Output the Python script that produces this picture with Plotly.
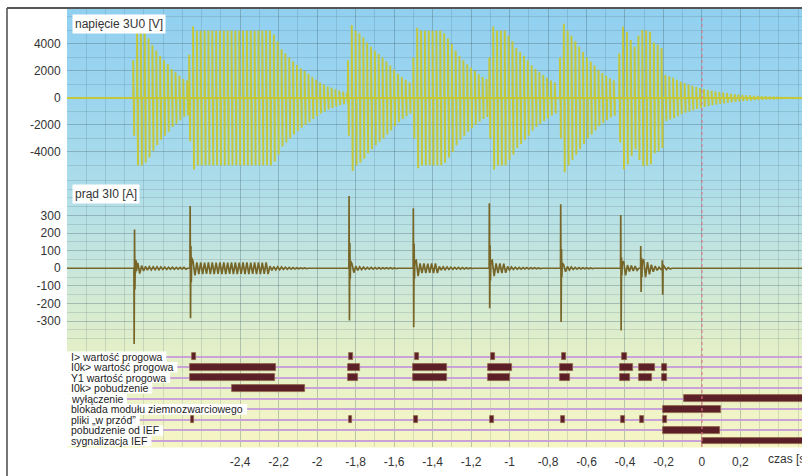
import plotly.graph_objects as go

# ---------------- data ----------------
T_START, T_END = -3.30, 0.52
TRIGGER_T = 0.0
CYCLE = 0.02  # 50 Hz network period

# voltage 3U0 [V]: burst start times and per-cycle peak amplitude
v_burst_t = [-2.956, -2.665, -1.840, -1.500, -1.105, -0.738, -0.430]
v_env_1 = [2800, 5000, 5000, 4800, 4400, 3900, 3500, 3100, 2800, 2500, 2150, 1900, 1650, 1400, 1300]
v_env_2 = [3200, 5300, 5000, 4980, 5000, 4990, 5000, 4980, 5000, 5000, 4990, 5000, 4980, 5000,
           5000, 4990, 5000, 4980, 5000, 5000, 4990, 5000, 4700, 4200, 3600, 3300, 3000, 2700,
           2450, 2200, 2000, 1800, 1550, 1350, 1150, 1000, 850, 750, 650, 550, 470, 400]
v_env_3 = [2800, 5400, 5000, 4800, 4500, 4100, 3800, 3500, 3250, 3000, 2700, 2400, 2100, 1800,
           1550, 1350, 1150]
v_env_4 = [3000, 5200, 5000, 5000, 4980, 5000, 5000, 4990, 4800, 4400, 4000, 3500, 3100, 2800,
           2500, 2250, 2000, 1750, 1550, 1400]
v_env_5 = [3000, 5300, 5000, 5000, 4990, 4600, 4200, 3700, 3400, 3100, 2800, 2400, 2150, 1900,
           1700, 1500, 1300, 1150]
v_env_6 = [3000, 5500, 5000, 4600, 4200, 3800, 3400, 3000, 2700, 2400, 2100, 1850, 1650, 1450, 1300]
v_env_7 = [3300, 5300, 4900, 4300, 3800, 4600, 5050, 5000, 4900, 4100, 3950, 3700, 1700, 1600,
           1500, 1350, 1200, 1100, 1000, 900, 820, 740, 670, 600, 540, 490, 440, 400, 360, 320,
           290, 260, 230, 210, 190, 170, 150, 135, 120, 110, 100, 90, 80, 70, 65, 60, 55, 50, 45]
v_envs = [v_env_1, v_env_2, v_env_3, v_env_4, v_env_5, v_env_6, v_env_7]

# current 3I0 [A]: event times, transient samples and per-cycle ringing amplitude
i_event_t = [-2.951, -2.660, -1.834, -1.500, -1.105, -0.734, -0.422, -0.318, -0.206]
i_trans_1 = [-430, 220, -120, 50, -25, 45, -15]
i_trans_2 = [354, -284, 126, -80, 60]
i_trans_3 = [411, -297, 144, -60, 40]
i_trans_4 = [341, -335, 141, -60, 40]
i_trans_5 = [369, -227, 131, -70, 40]
i_trans_6 = [364, -306, 110, -50, 30]
i_trans_7 = [303, -354, 63, -40, 30]
i_trans_8 = [126, -135, 60, -50, 40]
i_trans_9 = [46, -150, 20]
i_ring_1 = [30, 15, 10, 9, 8, 8, 7, 7, 6, 6, 5, 5, 5]
i_ring_2 = [40, 33, 33, 32, 33, 33, 32, 33, 33, 32, 33, 33, 32, 33, 33, 32, 33, 33, 32, 33,
            12, 9, 8, 7, 6, 5, 4, 3, 2, 2]
i_ring_3 = [25, 12, 8, 6, 5, 5, 4, 4, 3, 3, 3, 2]
i_ring_4 = [45, 27, 27, 26, 27, 27, 10, 8, 7, 6, 5, 5, 4, 3, 2]
i_ring_5 = [45, 27, 27, 26, 10, 7, 6, 5, 4, 4, 3, 3, 2]
i_ring_6 = [20, 10, 7, 5, 4, 3, 3, 2]
i_ring_7 = [40, 18, 15, 12]
i_ring_8 = [50, 35, 20, 12, 6]
i_ring_9 = [8, 4]
i_trans = [i_trans_1, i_trans_2, i_trans_3, i_trans_4, i_trans_5, i_trans_6, i_trans_7, i_trans_8, i_trans_9]
i_rings = [i_ring_1, i_ring_2, i_ring_3, i_ring_4, i_ring_5, i_ring_6, i_ring_7, i_ring_8, i_ring_9]

# binary signals: (start, end) in seconds
dig_labels = ["I> wartość progowa", "I0k> wartość progowa", "Y1 wartość progowa",
              "I0k> pobudzenie", "wyłączenie", "blokada modułu ziemnozwarciowego",
              "pliki „w przód”", "pobudzenie od IEF", "sygnalizacja IEF"]
bars_i_thr = [(-2.650, -2.630), (-1.834, -1.813), (-1.491, -1.469), (-1.096, -1.075),
              (-0.729, -0.706), (-0.414, -0.391)]
bars_i0k_thr = [(-2.660, -2.213), (-1.840, -1.777), (-1.500, -1.323), (-1.110, -0.989),
                (-0.738, -0.672), (-0.426, -0.360), (-0.326, -0.243), (-0.208, -0.180)]
bars_y1_thr = [(-2.660, -2.218), (-1.840, -1.789), (-1.500, -1.327), (-1.110, -1.000),
               (-0.738, -0.686), (-0.426, -0.374), (-0.326, -0.258), (-0.208, -0.180)]
bars_i0k_pick = [(-2.443, -2.062)]
bars_trip = [(-0.092, 0.60)]
bars_block = [(-0.201, 0.099)]
bars_files = [(-2.656, -2.639), (-1.834, -1.817), (-1.494, -1.475), (-1.101, -1.081),
              (-0.732, -0.713), (-0.422, -0.402), (-0.322, -0.300), (-0.201, -0.180)]
bars_ief_pick = [(-0.201, 0.094)]
bars_ief_sig = [(0.000, 0.60)]
dig_bars = [bars_i_thr, bars_i0k_thr, bars_y1_thr, bars_i0k_pick, bars_trip, bars_block,
            bars_files, bars_ief_pick, bars_ief_sig]

x_tick_vals = [-2.4, -2.2, -2.0, -1.8, -1.6, -1.4, -1.2, -1.0, -0.8, -0.6, -0.4, -0.2, 0.0, 0.2]
x_tick_text = ["-2,4", "-2,2", "-2", "-1,8", "-1,6", "-1,4", "-1,2", "-1", "-0,8", "-0,6",
               "-0,4", "-0,2", "0", "0,2"]
v_tick_vals = [4000, 2000, 0, -2000, -4000]
v_tick_text = ["4000", "2000", "0", "-2000", "-4000"]
i_tick_vals = [300, 200, 100, 0, -100, -200, -300]
i_tick_text = ["300", "200", "100", "0", "-100", "-200", "-300"]

# ---------------- geometry / style ----------------
W, H = 802, 476
ML, MR, MT, MB = 67, 0, 9, 29
PW, PH = W - ML - MR, H - MT - MB


def py(y):
    return (H - MB - y) / PH


def px(x):
    return (x - ML) / PW


FONT = "Liberation Sans, Arial, Helvetica, sans-serif"
V_COLOR = "#c4c73a"
I_COLOR = "#776628"
BAR_COLOR = "#5b1f27"
ROW_COLOR = "#c9a3d8"
GRID = "rgba(60,90,100,0.17)"
LABEL_SIZE = 10.5

# approximate Liberation Sans advance widths (per 1000 em) to size the white label boxes
ADV = {" ": 278, "a": 556, "b": 556, "c": 500, "d": 556, "e": 556, "f": 278, "g": 556, "h": 556,
       "i": 222, "j": 222, "k": 500, "l": 222, "m": 833, "n": 556, "o": 556, "p": 556, "r": 333,
       "s": 500, "t": 278, "u": 556, "v": 500, "w": 722, "y": 500, "z": 500, "I": 278, "Y": 667,
       "E": 667, "F": 611, ">": 584, "0": 556, "1": 556, "ł": 278, "ą": 556, "ę": 556, "ś": 500,
       "ć": 500, "ó": 556, "„": 333, "”": 333}


def text_w(s, size):
    return sum(ADV.get(ch, 556) for ch in s) * size / 1000.0


# ---------------- build voltage trace ----------------
vx, vy = [T_START, v_burst_t[0]], [0, 0]
for b, (t0, env) in enumerate(zip(v_burst_t, v_envs)):
    t_next = v_burst_t[b + 1] if b + 1 < len(v_burst_t) else T_END + 0.2
    for k, a in enumerate(env):
        t = t0 + k * CYCLE
        if t > t_next - 0.004:
            break
        vx += [t, t, t + 0.005, t + 0.005]
        vy += [0, a, -a, 0]

# ---------------- build current trace ----------------
ix, iy = [T_START], [0]
for t0, tr, ring in zip(i_event_t, i_trans, i_rings):
    ix.append(t0 - 0.001)
    iy.append(0)
    for j, v in enumerate(tr):
        ix.append(t0 + j * 0.002)
        iy.append(v)
    tr_end = t0 + len(tr) * 0.002
    for k, a in enumerate(ring):
        t = tr_end + k * CYCLE
        ix += [t + 0.005, t + 0.015]
        iy += [a, -a]
    ix.append(tr_end + len(ring) * CYCLE + 0.004)
    iy.append(0)
ix.append(T_END + 0.1)
iy.append(0)

fig = go.Figure()
fig.add_trace(go.Scatter(x=vx, y=vy, mode="lines", line=dict(color=V_COLOR, width=1.9),
                         xaxis="x", yaxis="y", hoverinfo="skip", showlegend=False))
fig.add_trace(go.Scatter(x=ix, y=iy, mode="lines", line=dict(color=I_COLOR, width=1.7),
                         xaxis="x2", yaxis="y2", hoverinfo="skip", showlegend=False))

by, bx, bb = [], [], []
for r, bars in enumerate(dig_bars):
    for s, e in bars:
        by.append(r)
        bb.append(s)
        bx.append(e - s)
fig.add_trace(go.Bar(y=by, x=bx, base=bb, orientation="h", width=0.66,
                     marker=dict(color=BAR_COLOR, line=dict(color="#8f6448", width=0.8)),
                     xaxis="x3", yaxis="y3", hoverinfo="skip", showlegend=False))

# ---------------- background gradient ----------------
stops = [(9, (146, 208, 240)), (100, (156, 213, 238)), (179, (171, 220, 234)),
         (260, (197, 229, 222)), (345, (226, 239, 201)), (447, (246, 246, 196))]


def col_at(y):
    for (y0, c0), (y1, c1) in zip(stops[:-1], stops[1:]):
        if y0 <= y <= y1:
            f = (y - y0) / (y1 - y0)
            return "rgb(%d,%d,%d)" % tuple(round(c0[i] + f * (c1[i] - c0[i])) for i in range(3))
    return "rgb(%d,%d,%d)" % stops[-1][1]


shapes = []
y = MT
while y < H - MB:
    y2 = min(y + 3, H - MB)
    shapes.append(dict(type="rect", xref="paper", yref="paper", x0=0, x1=1,
                       y0=py(y2) - 0.001, y1=py(y), fillcolor=col_at((y + y2) / 2),
                       line=dict(width=0), layer="below"))
    y = y2

# white boxes behind the binary-signal labels
for r, lab in enumerate(dig_labels):
    shapes.append(dict(type="rect", xref="paper", yref="y3", x0=0,
                       x1=px(ML + 4 + text_w(lab, LABEL_SIZE) + 4), y0=r - 0.5, y1=r + 0.5,
                       fillcolor="white", line=dict(width=0), layer="above"))

# trigger marker
shapes.append(dict(type="line", xref="x", yref="paper", x0=TRIGGER_T, x1=TRIGGER_T,
                   y0=0, y1=py(15), line=dict(color="rgba(220,120,135,0.75)", width=1.5, dash="dot"),
                   layer="above"))
# outer frame (left and top edges)
shapes.append(dict(type="line", xref="paper", yref="paper", x0=px(7), x1=px(7),
                   y0=py(H + 5), y1=py(8), line=dict(color="#555555", width=1.6)))
shapes.append(dict(type="line", xref="paper", yref="paper", x0=px(7), x1=px(W + 5),
                   y0=py(8), y1=py(8), line=dict(color="#555555", width=1.8)))

annotations = [
    dict(text="napięcie 3U0 [V]", xref="paper", yref="paper", x=px(72), y=py(23.7),
         xanchor="left", yanchor="middle", showarrow=False, bgcolor="white", borderpad=2,
         font=dict(family=FONT, size=12, color="#333333")),
    dict(text="prąd 3I0 [A]", xref="paper", yref="paper", x=px(72), y=py(193.5),
         xanchor="left", yanchor="middle", showarrow=False, bgcolor="white", borderpad=2,
         font=dict(family=FONT, size=12, color="#333333")),
    dict(text="czas [s]", xref="x3", yref="paper", x=0.332, y=py(459),
         xanchor="left", yanchor="middle", showarrow=False,
         font=dict(family=FONT, size=12, color="#333333")),
]
for r, lab in enumerate(dig_labels):
    annotations.append(dict(text=lab, xref="paper", yref="y3", x=px(ML + 3), y=r,
                            xanchor="left", yanchor="middle", showarrow=False, borderpad=0,
                            font=dict(family=FONT, size=LABEL_SIZE, color="#222222")))

xgrid = dict(range=[T_START, T_END], showgrid=True, gridcolor=GRID, gridwidth=1,
             zeroline=False, showline=False, tickmode="array", tickvals=x_tick_vals,
             minor=dict(dtick=0.1, tick0=0, showgrid=True, gridcolor=GRID, gridwidth=1, ticks=""))

fig.update_layout(
    width=W, height=H,
    margin=dict(l=ML, r=MR, t=MT, b=MB, pad=0),
    paper_bgcolor="white", plot_bgcolor="rgba(0,0,0,0)",
    font=dict(family=FONT, size=12, color="#333333"),
    barmode="overlay", bargap=0,
    xaxis=dict(xgrid, anchor="y", domain=[0, 1], showticklabels=False),
    xaxis2=dict(xgrid, anchor="y2", domain=[0, 1], matches="x", showticklabels=False),
    xaxis3=dict(xgrid, anchor="y3", domain=[0, 1], matches="x", showticklabels=True,
                ticktext=x_tick_text, ticks="outside", ticklen=4, tickcolor="rgba(0,0,0,0)",
                tickfont=dict(family=FONT, size=12, color="#333333")),
    yaxis=dict(domain=[py(179), 1], range=[-6000, 6590], tickmode="array",
               tickvals=v_tick_vals, ticktext=v_tick_text, showgrid=True, gridcolor=GRID,
               zeroline=False, ticks="outside", ticklen=3, tickcolor="rgba(0,0,0,0)",
               minor=dict(dtick=1000, tick0=0, showgrid=True, gridcolor=GRID),
               tickfont=dict(family=FONT, size=12, color="#333333")),
    yaxis2=dict(domain=[py(345), py(179)], range=[-436, 507], tickmode="array",
                tickvals=i_tick_vals, ticktext=i_tick_text, showgrid=True, gridcolor=GRID,
                zeroline=False, ticks="outside", ticklen=3, tickcolor="rgba(0,0,0,0)",
                minor=dict(dtick=50, tick0=0, showgrid=True, gridcolor=GRID),
                tickfont=dict(family=FONT, size=12, color="#333333")),
    yaxis3=dict(domain=[0, py(345)], range=[8.57, -1.11], tickmode="array",
                tickvals=list(range(len(dig_labels))), showticklabels=False,
                showgrid=True, gridcolor=ROW_COLOR, gridwidth=2, zeroline=False),
    shapes=shapes, annotations=annotations,
)

fig.write_html("out.html", config={"displayModeBar": False},
               post_script="document.body.style.margin='0';document.body.style.overflow='hidden';")
